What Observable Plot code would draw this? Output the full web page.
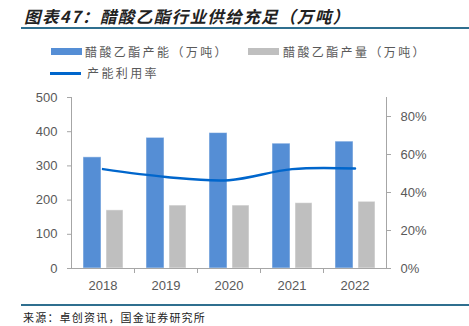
<!DOCTYPE html>
<html>
<head>
<meta charset="utf-8">
<script src="https://cdn.jsdelivr.net/npm/d3@7"></script>
<script src="https://cdn.jsdelivr.net/npm/@observablehq/plot@0.6"></script>
<style>
  html, body { margin: 0; padding: 0; background: #fff; }
  body { width: 469px; height: 326px; position: relative; overflow: hidden; font-family: "Noto Sans CJK SC", sans-serif; }
  #title { position: absolute; left: 24px; top: 4px; font-size: 16.5px; font-weight: bold; font-style: italic; color: #222; white-space: nowrap; letter-spacing: 1.4px; }
  .hline { position: absolute; left: 21px; right: 0; height: 2px; background: #2f6f8f; }
  .leg { position: absolute; font-size: 12px; color: #595959; white-space: nowrap; letter-spacing: 2.4px; line-height: 14px; }
  .sw { position: absolute; }
  #chart { position: absolute; left: 0; top: 88px; }
  #source { position: absolute; left: 23px; top: 309px; font-size: 11px; color: #222; letter-spacing: 1.2px; white-space: nowrap; line-height: 16px; }
</style>
</head>
<body>
<div id="title">图表47：醋酸乙酯行业供给充足（万吨）</div>
<div class="hline" style="top:27px"></div>
<div id="legend"></div>
<div id="chart"></div>
<div class="hline" style="top:304px"></div>
<div id="source">来源：卓创资讯，国金证券研究所</div>
<script>
const years = ["2018", "2019", "2020", "2021", "2022"];
const capacity = [325, 382, 396, 365, 371];
const output = [170, 184, 184, 191, 195];
const utilization = [52.3, 48.2, 46.5, 52.3, 52.6];
const leftTicks = [0, 100, 200, 300, 400, 500];
const rightTicks = [0, 20, 40, 60, 80];
const seriesNames = ["醋酸乙酯产能（万吨）", "醋酸乙酯产量（万吨）", "产能利用率"];
const colors = ["#558ed5", "#bfbfbf", "#0066cc"];
const leftMax = 500, rightMax = 90;

const toLeft = p => p * leftMax / rightMax;

// legend
const legend = document.getElementById("legend");
const legItems = [
  {type: "bar", x: 51, y: 45, tx: 85, name: seriesNames[0], color: colors[0]},
  {type: "bar", x: 248, y: 45, tx: 283, name: seriesNames[1], color: colors[1]},
  {type: "line", x: 50, y: 66, tx: 87, name: seriesNames[2], color: colors[2]}
];
for (const it of legItems) {
  const sw = document.createElement("div");
  sw.className = "sw";
  sw.style.left = it.x + "px";
  sw.style.width = "31px";
  sw.style.background = it.color;
  if (it.type === "bar") { sw.style.top = (it.y + 3) + "px"; sw.style.height = "7px"; }
  else { sw.style.top = (it.y + 6) + "px"; sw.style.height = "2.5px"; }
  legend.appendChild(sw);
  const t = document.createElement("div");
  t.className = "leg";
  t.style.left = it.tx + "px";
  t.style.top = it.y + "px";
  t.textContent = it.name;
  legend.appendChild(t);
}

const data = years.map((y, i) => ({year: y, capacity: capacity[i], output: output[i], util: utilization[i]}));

const plot = Plot.plot({
  width: 469,
  height: 210,
  marginLeft: 71,
  marginRight: 83,
  marginTop: 9,
  marginBottom: 30,
  style: {fontFamily: "'Liberation Sans', Arial, sans-serif", fontSize: "13px", background: "transparent"},
  x: {domain: years, padding: 0, axis: null},
  y: {domain: [0, leftMax], axis: null},
  marks: [
    Plot.barY(data, {x: "year", y: "capacity", fill: colors[0], insetLeft: 12, insetRight: 33, stroke: "#ffffff", strokeOpacity: 0.5, strokeWidth: 1}),
    Plot.barY(data, {x: "year", y: "output", fill: colors[1], insetLeft: 35, insetRight: 11, stroke: "#ffffff", strokeOpacity: 0.5, strokeWidth: 1}),
    Plot.line(data, {x: "year", y: d => toLeft(d.util), stroke: colors[2], strokeWidth: 2.5, curve: "catmull-rom"}),
    Plot.frame({anchor: "left", stroke: "#a6a6a6"}),
    Plot.frame({anchor: "right", stroke: "#a6a6a6"}),
    Plot.ruleY([0], {stroke: "#a6a6a6"}),
    Plot.axisY(leftTicks, {anchor: "left", tickSize: 4, tickPadding: 10, stroke: "#a6a6a6", fill: "#595959", label: null}),
    Plot.axisY(rightTicks.map(toLeft), {anchor: "right", tickSize: 4, tickPadding: 10, stroke: "#a6a6a6", fill: "#595959", tickFormat: d => Math.round(d * rightMax / leftMax) + "%", label: null}),
    Plot.axisX(years.slice(1), {anchor: "bottom", tickSize: 5, dx: -31.5, stroke: "#a6a6a6", tickFormat: () => "", label: null}),
    Plot.axisX(years, {anchor: "bottom", tickSize: 0, tickPadding: 12, fill: "#595959", label: null})
  ]
});
document.getElementById("chart").appendChild(plot);
</script>
</body>
</html>
